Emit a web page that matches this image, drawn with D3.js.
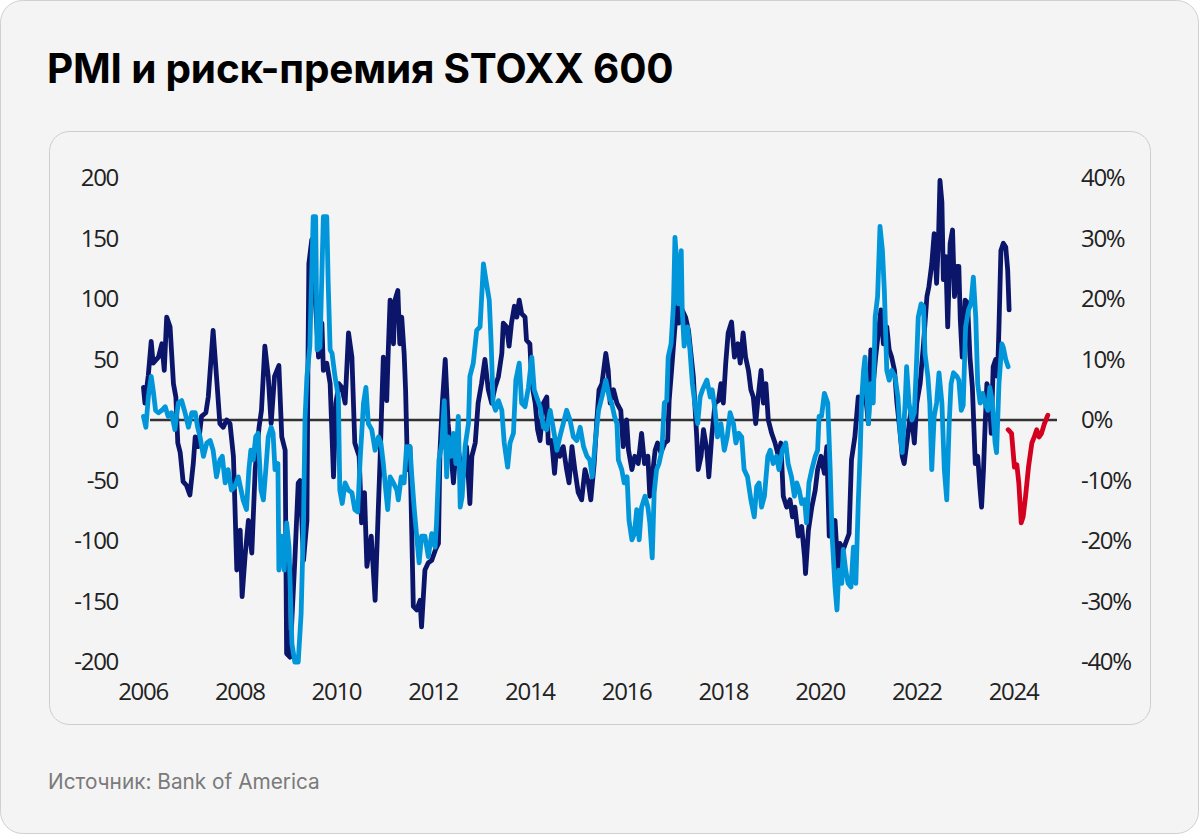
<!DOCTYPE html>
<html>
<head>
<meta charset="utf-8">
<script src="https://cdn.jsdelivr.net/npm/d3@7"></script>
<style>
  html, body { margin: 0; padding: 0; background: #fff; }
  svg { display: block; }
  .tick text { font-family: "Open Sans", sans-serif; font-size: 24px; fill: #222; letter-spacing: -1.3px; }
</style>
</head>
<body>
<div id="chart"></div>
<script>
// PMI (left axis, index points) - dark navy
const pmiSeries = [
  [2006.02,27],[2006.05,14],[2006.12,37],[2006.18,65],[2006.22,47],[2006.33,52],[2006.40,63],[2006.45,41],[2006.50,85],[2006.57,77],
  [2006.64,30],[2006.69,19],[2006.73,-19],[2006.78,-27],[2006.84,-51],[2006.91,-54],[2006.98,-62],[2007.05,-36],[2007.09,-14],[2007.15,-22],
  [2007.22,3],[2007.31,6],[2007.36,19],[2007.46,74],[2007.53,36],[2007.60,-3],[2007.67,-6],[2007.74,0],[2007.81,-3],[2007.88,-30],
  [2007.91,-69],[2007.95,-124],[2008.02,-91],[2008.06,-146],[2008.12,-113],[2008.19,-83],[2008.26,-110],[2008.33,-41],[2008.41,-6],[2008.46,8],
  [2008.53,61],[2008.60,36],[2008.66,-3],[2008.73,36],[2008.82,45],[2008.88,-14],[2008.95,-25],[2008.98,-193],[2009.05,-196],[2009.15,-116],
  [2009.22,-52],[2009.26,-50],[2009.33,-116],[2009.40,-83],[2009.42,41],[2009.44,129],[2009.50,149],[2009.57,102],[2009.64,52],[2009.71,80],
  [2009.74,41],[2009.81,47],[2009.88,30],[2009.95,-47],[2010.00,14],[2010.06,30],[2010.12,27],[2010.19,14],[2010.26,72],[2010.33,52],
  [2010.39,-19],[2010.48,-30],[2010.53,-85],[2010.59,-60],[2010.64,-121],[2010.73,-96],[2010.81,-149],[2010.88,-69],[2010.91,-36],[2010.95,16],
  [2010.98,52],[2011.05,16],[2011.08,55],[2011.12,99],[2011.19,63],[2011.22,99],[2011.28,107],[2011.32,63],[2011.36,85],[2011.41,55],
  [2011.44,25],[2011.48,-41],[2011.53,-22],[2011.60,-154],[2011.67,-157],[2011.74,-149],[2011.77,-171],[2011.84,-124],[2011.91,-118],[2011.98,-116],
  [2012.06,-107],[2012.12,-102],[2012.15,-27],[2012.20,14],[2012.26,50],[2012.32,-3],[2012.39,-33],[2012.43,-52],[2012.50,-14],[2012.57,-36],
  [2012.63,-47],[2012.70,-22],[2012.77,-69],[2012.81,-30],[2012.88,-19],[2012.94,14],[2013.01,30],[2013.08,50],[2013.15,25],[2013.22,14],
  [2013.29,27],[2013.36,36],[2013.43,55],[2013.46,80],[2013.53,77],[2013.58,61],[2013.63,80],[2013.69,94],[2013.74,85],[2013.79,99],
  [2013.84,88],[2013.91,85],[2013.94,66],[2014.01,63],[2014.05,30],[2014.12,14],[2014.17,-8],[2014.22,-17],[2014.29,14],[2014.36,19],
  [2014.39,-19],[2014.46,-17],[2014.52,-44],[2014.57,-19],[2014.63,-30],[2014.70,-22],[2014.77,-41],[2014.82,-52],[2014.88,-22],[2014.94,-41],
  [2015.01,-60],[2015.08,-66],[2015.15,-41],[2015.22,-52],[2015.27,-66],[2015.34,-36],[2015.39,-3],[2015.44,25],[2015.50,30],[2015.58,55],
  [2015.63,41],[2015.67,14],[2015.74,25],[2015.81,14],[2015.89,8],[2015.94,-22],[2016.01,0],[2016.05,-25],[2016.12,-41],[2016.18,-30],
  [2016.25,-36],[2016.32,-11],[2016.38,-36],[2016.45,-30],[2016.49,-63],[2016.54,-47],[2016.60,-25],[2016.65,-19],[2016.72,-27],[2016.80,-19],
  [2016.86,-17],[2016.89,16],[2016.94,41],[2017.01,77],[2017.07,96],[2017.09,80],[2017.16,91],[2017.23,85],[2017.29,74],[2017.34,55],
  [2017.39,36],[2017.42,14],[2017.46,-14],[2017.49,-41],[2017.55,-30],[2017.60,-8],[2017.67,-25],[2017.71,-47],[2017.77,-14],[2017.84,14],
  [2017.91,16],[2017.96,30],[2018.01,14],[2018.06,47],[2018.11,72],[2018.18,81],[2018.24,52],[2018.31,63],[2018.36,47],[2018.42,72],
  [2018.47,52],[2018.53,41],[2018.58,25],[2018.63,19],[2018.68,-3],[2018.73,19],[2018.79,41],[2018.84,14],[2018.89,30],[2018.94,0],
  [2019.01,-11],[2019.08,-19],[2019.15,-30],[2019.20,-19],[2019.25,-63],[2019.32,-72],[2019.39,-66],[2019.44,-80],[2019.49,-72],[2019.56,-96],
  [2019.63,-88],[2019.69,-113],[2019.71,-127],[2019.77,-91],[2019.84,-72],[2019.91,-58],[2019.96,-41],[2020.03,-30],[2020.10,-44],[2020.15,-22],
  [2020.20,-96],[2020.32,-83],[2020.38,-124],[2020.42,-102],[2020.49,-107],[2020.61,-94],[2020.66,-33],[2020.73,-14],[2020.80,19],[2020.87,14],
  [2020.94,25],[2021.01,-3],[2021.06,58],[2021.11,30],[2021.16,52],[2021.22,74],[2021.27,91],[2021.32,63],[2021.39,77],[2021.44,58],
  [2021.49,52],[2021.55,41],[2021.60,14],[2021.66,-8],[2021.71,-30],[2021.75,-36],[2021.82,-14],[2021.89,8],[2021.96,-19],[2022.01,14],
  [2022.08,30],[2022.15,63],[2022.22,102],[2022.26,110],[2022.32,129],[2022.37,154],[2022.42,113],[2022.46,151],[2022.49,198],[2022.53,180],
  [2022.56,116],[2022.61,135],[2022.65,77],[2022.70,146],[2022.75,157],[2022.79,102],[2022.84,127],[2022.88,127],[2022.91,83],[2022.95,52],
  [2023.01,99],[2023.06,97],[2023.11,52],[2023.16,27],[2023.22,-36],[2023.27,-30],[2023.32,-58],[2023.35,-72],[2023.39,-41],[2023.42,-8],
  [2023.46,30],[2023.50,25],[2023.55,-11],[2023.59,44],[2023.64,50],[2023.68,36],[2023.71,77],[2023.75,140],[2023.80,146],[2023.85,143],
  [2023.89,124],[2023.92,91]
];

// STOXX 600 risk premium (right axis, %) - light blue
const riskPremium = [
  [2006.02,0.6],[2006.07,-1.2],[2006.12,3.8],[2006.18,7.2],[2006.22,5],[2006.27,1.6],[2006.33,1.2],[2006.40,1.6],[2006.47,2.2],[2006.53,0.6],
  [2006.60,1.2],[2006.67,-1.6],[2006.74,2.8],[2006.81,3.2],[2006.88,1.2],[2006.95,-1.2],[2007.02,1.2],[2007.09,1.2],[2007.14,-1.2],[2007.19,-2.8],
  [2007.26,-6],[2007.33,-3.8],[2007.40,-3.4],[2007.46,-5],[2007.53,-9.4],[2007.60,-6.6],[2007.65,-6],[2007.71,-10.4],[2007.77,-8.2],[2007.84,-11.6],
  [2007.91,-11],[2007.98,-9.4],[2008.04,-11.6],[2008.08,-13.2],[2008.15,-14.8],[2008.20,-8.2],[2008.24,-5],[2008.29,-6.6],[2008.34,-2.8],[2008.39,-2.2],
  [2008.45,-11.6],[2008.50,-13.2],[2008.55,-8.2],[2008.60,-2.8],[2008.66,-1.2],[2008.70,-2.2],[2008.74,-8.2],[2008.80,-7.2],[2008.82,-24.8],[2008.88,-19.2],
  [2008.93,-24.8],[2008.98,-17],[2009.03,-21],[2009.09,-37],[2009.15,-40],[2009.22,-40],[2009.28,-32],[2009.33,-16.6],[2009.36,0],[2009.40,7.2],
  [2009.46,12.2],[2009.53,33.6],[2009.58,33.6],[2009.61,11.6],[2009.67,12],[2009.74,33.6],[2009.81,33.6],[2009.84,22.6],[2009.88,11.6],[2009.92,11],
  [2009.98,7.2],[2010.05,3.8],[2010.08,-11.6],[2010.13,-13.8],[2010.19,-10.4],[2010.26,-11.6],[2010.33,-12],[2010.39,-14.8],[2010.45,-15.2],[2010.50,-6.6],
  [2010.57,2.8],[2010.62,5.4],[2010.67,-0.6],[2010.74,-1.6],[2010.81,-5],[2010.88,-2.8],[2010.93,-3.8],[2010.98,-7.2],[2011.03,-11.6],[2011.07,-14.8],
  [2011.12,-9.4],[2011.19,-10.4],[2011.26,-11.6],[2011.29,-13.2],[2011.35,-9.4],[2011.41,-10.4],[2011.46,-4.4],[2011.53,-4.4],[2011.57,-9.4],[2011.62,-14.8],
  [2011.67,-19.2],[2011.72,-23.6],[2011.77,-19.2],[2011.84,-19.2],[2011.91,-22.6],[2011.98,-18.8],[2012.05,-21],[2012.08,-17],[2012.13,-6.6],[2012.19,-3.8],
  [2012.24,3.2],[2012.29,-9.4],[2012.32,-2.8],[2012.38,-6],[2012.43,-2.2],[2012.48,-7.2],[2012.53,0.6],[2012.57,-14.4],[2012.61,-12.6],[2012.67,-4.4],
  [2012.74,-0.6],[2012.77,7.2],[2012.84,9.4],[2012.91,14.8],[2012.98,15.4],[2013.05,25.8],[2013.10,23.2],[2013.17,19.8],[2013.21,12.6],[2013.25,2.8],
  [2013.30,1.6],[2013.36,3.2],[2013.43,1.6],[2013.48,-3.8],[2013.55,-7.8],[2013.60,-3.8],[2013.67,-2.2],[2013.72,6.6],[2013.79,9.4],[2013.84,2.8],
  [2013.91,2.2],[2013.98,5.4],[2014.05,10.4],[2014.10,5],[2014.15,3.8],[2014.22,2.2],[2014.29,-1.2],[2014.36,-1.6],[2014.43,1.6],[2014.49,-1.2],
  [2014.57,-5],[2014.63,-2.8],[2014.70,-0.6],[2014.77,1.6],[2014.84,0],[2014.91,-2.8],[2014.98,-3.4],[2015.05,-1.2],[2015.12,-4.4],[2015.19,-6],
  [2015.25,-6.6],[2015.30,-9.4],[2015.36,-3.8],[2015.43,1.6],[2015.50,3.8],[2015.58,6.6],[2015.65,3.8],[2015.70,2.8],[2015.76,0.6],[2015.81,-0.6],
  [2015.84,-6.6],[2015.91,-8.2],[2015.96,-10.4],[2016.02,-9.4],[2016.06,-16.6],[2016.12,-19.8],[2016.17,-18.8],[2016.22,-14.8],[2016.27,-19.8],[2016.32,-14.4],
  [2016.39,-12.6],[2016.45,-14.4],[2016.49,-17],[2016.54,-22.8],[2016.58,-12],[2016.63,-8.2],[2016.68,-7.2],[2016.74,-5],[2016.79,2.8],[2016.84,3.2],
  [2016.87,10.4],[2016.93,12.6],[2016.98,19.2],[2017.01,30.2],[2017.05,25.8],[2017.08,19.2],[2017.14,28],[2017.16,18.2],[2017.20,12.2],[2017.27,15.4],
  [2017.32,11.6],[2017.37,6],[2017.42,2.8],[2017.48,-0.6],[2017.53,3.8],[2017.58,5],[2017.67,6.6],[2017.74,3.8],[2017.78,5],[2017.84,1.6],
  [2017.89,-2.8],[2017.96,-0.6],[2018.03,-5],[2018.09,-2.8],[2018.15,1.2],[2018.22,-0.6],[2018.27,-3.8],[2018.33,-2.2],[2018.39,-2.8],[2018.44,-8.2],
  [2018.51,-9.4],[2018.58,-13.2],[2018.65,-16],[2018.70,-11],[2018.75,-10.4],[2018.80,-14.4],[2018.86,-12.6],[2018.93,-6],[2018.98,-5],[2019.04,-7.2],
  [2019.11,-6],[2019.16,-8.2],[2019.23,-5],[2019.30,-3.8],[2019.35,-7.2],[2019.42,-9.4],[2019.48,-12.6],[2019.53,-10.4],[2019.58,-11.6],[2019.63,-13.8],
  [2019.69,-13.2],[2019.73,-17],[2019.78,-10.4],[2019.84,-8.2],[2019.91,-6],[2019.96,-5],[2019.99,0.6],[2020.04,0.6],[2020.10,4.4],[2020.17,2.8],
  [2020.22,-8.2],[2020.26,-19.2],[2020.32,-27.6],[2020.36,-31.4],[2020.40,-24.8],[2020.46,-27],[2020.49,-21.4],[2020.54,-24.8],[2020.59,-27],[2020.65,-27.6],
  [2020.70,-21],[2020.75,-27],[2020.80,-13.8],[2020.84,-5.4],[2020.87,3.2],[2020.91,8.2],[2020.94,10.4],[2021.01,-0.6],[2021.06,6],[2021.11,2.8],
  [2021.15,17],[2021.20,20.4],[2021.25,32],[2021.30,28],[2021.34,21.4],[2021.39,8.2],[2021.44,6.6],[2021.49,8.2],[2021.56,7.2],[2021.62,3.8],
  [2021.66,-1.6],[2021.71,-5.4],[2021.77,2.8],[2021.80,8.8],[2021.85,2.8],[2021.91,0],[2021.96,1.2],[2022.01,10.4],[2022.04,17],[2022.10,19.2],
  [2022.15,18.8],[2022.18,11],[2022.24,7.2],[2022.28,2.8],[2022.32,-8.2],[2022.37,0.6],[2022.42,2.8],[2022.47,7.8],[2022.53,2.8],[2022.58,-8.2],
  [2022.63,-13.2],[2022.68,-0.6],[2022.72,6],[2022.77,7.8],[2022.84,7.2],[2022.88,6.6],[2022.93,1.6],[2022.97,2.4],[2023.02,15.4],[2023.08,18.2],
  [2023.13,19.2],[2023.18,23.6],[2023.23,17],[2023.27,6],[2023.32,2.8],[2023.37,4.4],[2023.42,2.8],[2023.48,1.6],[2023.52,5.4],[2023.57,3.2],
  [2023.63,-3.8],[2023.66,-5.4],[2023.71,6],[2023.77,12.6],[2023.80,12],[2023.85,10],[2023.90,8.8]
];

// latest stretch of the risk premium (right axis, %) - red
const riskRecent = [
  [2023.90,-1.6],[2023.97,-2.2],[2024.03,-7.8],[2024.08,-7.4],[2024.12,-10.4],[2024.17,-17],[2024.21,-16],[2024.26,-12.6],
  [2024.32,-7.8],[2024.39,-3.8],[2024.44,-2.8],[2024.49,-1.6],[2024.54,-2.8],[2024.59,-2.2],[2024.65,-0.6],[2024.72,0.8]
];

const yearTicks = [2006, 2008, 2010, 2012, 2014, 2016, 2018, 2020, 2022, 2024];
const leftTicks = [-200, -150, -100, -50, 0, 50, 100, 150, 200];
const rightTicks = [-40, -30, -20, -10, 0, 10, 20, 30, 40];

const width = 1200, height = 836;

const svg = d3.select("#chart").append("svg").attr("width", width).attr("height", height);

// cards
svg.append("rect").attr("x", 0.5).attr("y", 0.5).attr("width", 1198).attr("height", 833)
  .attr("rx", 22).attr("fill", "#f4f4f4").attr("stroke", "#d0d0d0");
svg.append("rect").attr("x", 49.5).attr("y", 131.5).attr("width", 1101).attr("height", 593)
  .attr("rx", 20).attr("fill", "#f4f4f4").attr("stroke", "#cccccc");

svg.append("text").attr("x", 47).attr("y", 83)
  .attr("font-family", "Inter, sans-serif").attr("font-weight", 700).attr("font-size", 40.5)
  .attr("letter-spacing", -0.2)
  .attr("fill", "#000").text("PMI и риск-премия STOXX 600");

svg.append("text").attr("x", 48).attr("y", 789)
  .attr("font-family", "Inter, sans-serif").attr("font-size", 20.8)
  .attr("fill", "#7a7a7a").text("Источник: Bank of America");

const xScale = d3.scaleLinear().domain([2006, 2024]).range([142.5, 1013]);
const yLeft = d3.scaleLinear().domain([-200, 200]).range([662, 178]);
const yRight = d3.scaleLinear().domain([-40, 40]).range([662, 178]);

// axes (plain hyphen minus, as in the source chart)
const gLeft = svg.append("g").attr("transform", "translate(118,0)")
  .call(d3.axisLeft(yLeft).tickValues(leftTicks).tickSize(0).tickPadding(0).tickFormat(d => String(d)));
const gRight = svg.append("g").attr("transform", "translate(1081,0)")
  .call(d3.axisRight(yRight).tickValues(rightTicks).tickSize(0).tickPadding(0).tickFormat(d => d + "%"));
const gBottom = svg.append("g").attr("transform", "translate(0,680)")
  .call(d3.axisBottom(xScale).tickValues(yearTicks).tickSize(0).tickPadding(3).tickFormat(d => String(d)));
[gLeft, gRight, gBottom].forEach(g => { g.select(".domain").remove(); g.selectAll(".tick text").attr("font-family", null).attr("font-size", null); });

// zero line
svg.append("line").attr("x1", 150).attr("x2", 1057).attr("y1", yLeft(0)).attr("y2", yLeft(0))
  .attr("stroke", "#333").attr("stroke-width", 2.4);

const lineLeft = d3.line().x(d => xScale(d[0])).y(d => yLeft(d[1]));
const lineRight = d3.line().x(d => xScale(d[0])).y(d => yRight(d[1]));

const lw = 4.8;
svg.append("path").datum(pmiSeries).attr("d", lineLeft)
  .attr("fill", "none").attr("stroke", "#0b166b").attr("stroke-width", lw)
  .attr("stroke-linejoin", "round").attr("stroke-linecap", "round");
svg.append("path").datum(riskPremium).attr("d", lineRight)
  .attr("fill", "none").attr("stroke", "#0096d9").attr("stroke-width", lw)
  .attr("stroke-linejoin", "round").attr("stroke-linecap", "round");
svg.append("path").datum(riskRecent).attr("d", lineRight)
  .attr("fill", "none").attr("stroke", "#d40020").attr("stroke-width", lw)
  .attr("stroke-linejoin", "round").attr("stroke-linecap", "round");
</script>
</body>
</html>
